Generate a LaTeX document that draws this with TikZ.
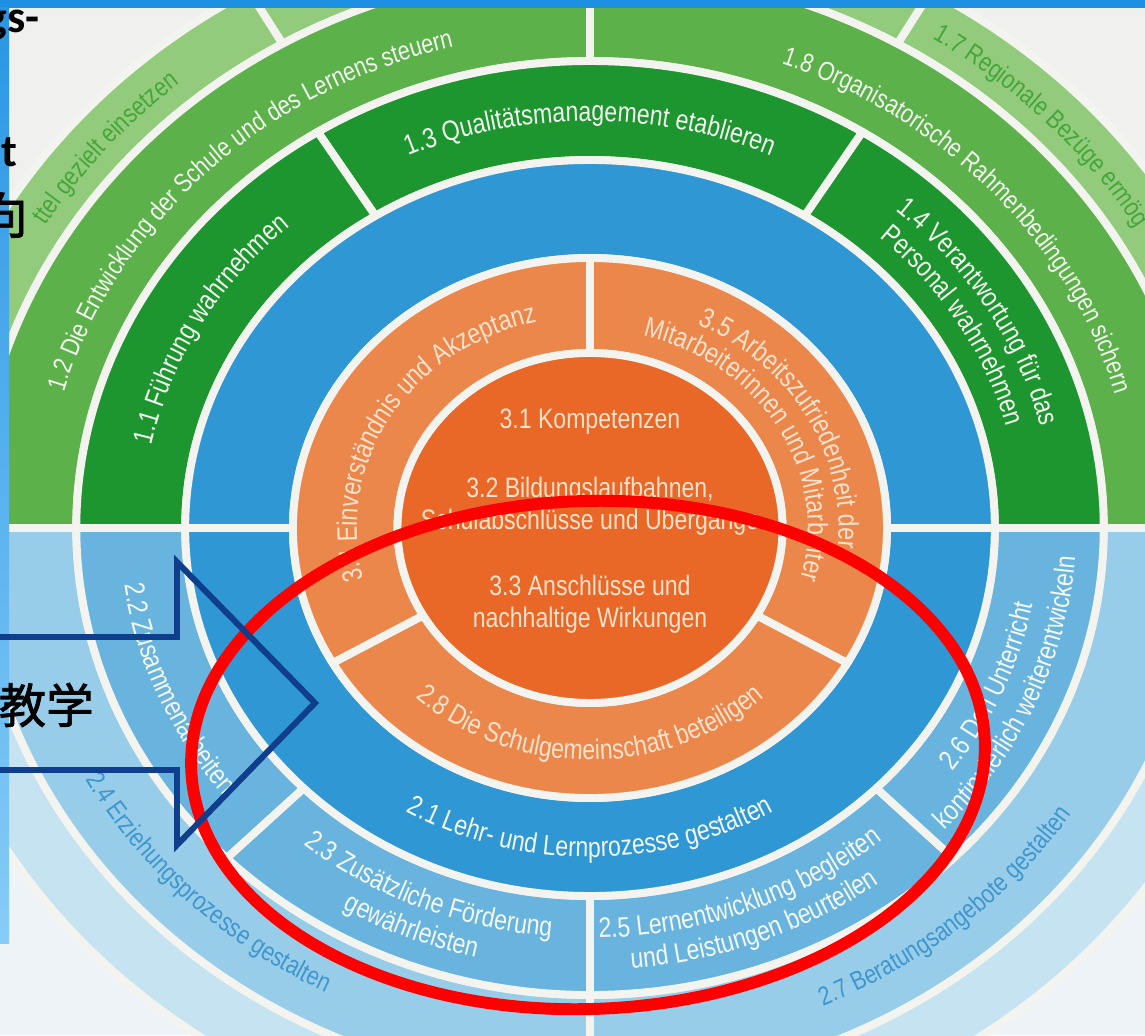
\documentclass[tikz,border=0pt]{standalone}
\usepackage{fontspec}
\setmainfont{Liberation Sans}[FakeStretch=0.82]
\newfontfamily\cjk{Noto Sans CJK SC}[FakeBold=1.5]
\newfontfamily\slidefont{Carlito}
\usetikzlibrary{decorations.text}

\definecolor{paper}{HTML}{F0F0EE}
\definecolor{paperblue}{HTML}{EDF3F6}
\definecolor{sepwhite}{HTML}{F3F4EF}
\definecolor{grnA}{HTML}{1D962F}
\definecolor{grnB}{HTML}{5DB14A}
\definecolor{grnC}{HTML}{93CB7C}
\definecolor{grnT}{HTML}{45A63A}
\definecolor{bluA}{HTML}{2F97D3}
\definecolor{bluB}{HTML}{69B4DF}
\definecolor{bluC}{HTML}{98CDE9}
\definecolor{bluD}{HTML}{C6E3F1}
\definecolor{bluT}{HTML}{3F96CF}
\definecolor{orgA}{HTML}{EC874B}
\definecolor{orgB}{HTML}{E96727}
\definecolor{orgT}{HTML}{FCE1CC}
\definecolor{txtW}{HTML}{F2F7F0}
\definecolor{barblue}{HTML}{1E90E2}
\definecolor{stripA}{HTML}{2A96E4}
\definecolor{stripB}{HTML}{86CCF7}
\definecolor{arrowblue}{HTML}{0E3E8C}

\newcommand{\lbl}{\fontsize{16}{18}\selectfont}
\newcommand{\lblout}{\fontsize{15}{17}\selectfont}
\newcommand{\ringpart}[5]{%
  \filldraw[sector,fill=#1] (#2:#4) arc[start angle=#2,end angle=#3,radius=#4]
    -- (#3:#5) arc[start angle=#3,end angle=#2,radius=#5] -- cycle;}
\newcommand{\cwlabel}[6][\lbl]{%
  \pgfmathsetmacro\tA{#3+#5}\pgfmathsetmacro\tB{#3-#5}%
  \path[decorate,decoration={text along path,text align=center,
    text={|#1\color{#2}|#6}}] (\tA:#4) arc[start angle=\tA,end angle=\tB,radius=#4];}
\newcommand{\ccwlabel}[6][\lbl]{%
  \pgfmathsetmacro\tA{#3-#5}\pgfmathsetmacro\tB{#3+#5}%
  \path[decorate,decoration={text along path,text align=center,
    text={|#1\color{#2}|#6}}] (\tA:#4) arc[start angle=\tA,end angle=\tB,radius=#4];}

\begin{document}
\begin{tikzpicture}[x=0.02cm,y=0.02cm,
    sector/.style={draw=sepwhite,line width=4.5pt,line join=miter},
    midtext/.style={text=orgT,font=\lbl,align=center,inner sep=0pt},
    slidetext/.style={inner sep=0pt,text=black}]
  \useasboundingbox (0,0) rectangle (1145,1035);
  \clip (0,0) rectangle (1145,1035);
  \fill[paper] (0,507) rectangle (1145,1035);
  \fill[paperblue] (0,0) rectangle (1145,507);

  \begin{scope}[shift={(590,507)},xscale=1.1]
    \ringpart{grnC}{0}{60}{559}{620}
    \ringpart{grnC}{60}{120}{559}{620}
    \ringpart{grnC}{120}{180}{559}{620}
    \ringpart{bluD}{180}{270}{559}{620}
    \ringpart{bluD}{270}{360}{559}{620}
    \ringpart{grnB}{0}{90}{467}{559}
    \ringpart{grnB}{90}{180}{467}{559}
    \ringpart{bluC}{180}{270}{467}{559}
    \ringpart{bluC}{270}{360}{467}{559}
    \ringpart{grnA}{0}{58}{368}{467}
    \ringpart{grnA}{58}{122}{368}{467}
    \ringpart{grnA}{122}{180}{368}{467}
    \ringpart{bluB}{180}{225}{368}{467}
    \ringpart{bluB}{225}{270}{368}{467}
    \ringpart{bluB}{270}{315}{368}{467}
    \ringpart{bluB}{315}{360}{368}{467}
    \ringpart{bluA}{0}{180}{270}{368}
    \ringpart{bluA}{180}{360}{270}{368}
    \ringpart{orgA}{90}{210}{175}{270}
    \ringpart{orgA}{-30}{90}{175}{270}
    \ringpart{orgA}{210}{330}{175}{270}
    \filldraw[sector,fill=orgB] (0,0) circle (175);

    \path[decorate,decoration={text along path,text align=left,
      text={|\lblout\color{grnT}|1.7 Regionale Bezüge ermög}}]
      (57.5:580) arc[start angle=57.5,end angle=0,radius=580];
    \path[decorate,decoration={text along path,text align=right,
      text={|\lblout\color{grnT}|ttel gezielt einsetzen}}]
      (179:580) arc[start angle=179,end angle=130,radius=580];
    \cwlabel[\lblout]{txtW}{135}{497}{45}{1.2 Die Entwicklung der Schule und des Lernens steuern}
    \cwlabel[\lblout]{txtW}{42}{496}{40}{1.8 Organisatorische Rahmenbedingungen sichern}
    \cwlabel{txtW}{150.5}{407}{28}{1.1 Führung wahrnehmen}
    \cwlabel{txtW}{90}{407}{30}{1.3 Qualitätsmanagement etablieren}
    \cwlabel{txtW}{31}{422}{30}{1.4 Verantwortung für das}
    \cwlabel{txtW}{31}{392}{30}{Personal wahrnehmen}
    \cwlabel{orgT}{149}{212}{55}{3.4 Einverständnis und Akzeptanz}
    \cwlabel{orgT}{29}{226}{50}{3.5 Arbeitszufriedenheit der}
    \cwlabel{orgT}{30}{198}{58}{Mitarbeiterinnen und Mitarbeiter}
    \ccwlabel{orgT}{270}{232}{55}{2.8 Die Schulgemeinschaft beteiligen}
    \ccwlabel{txtW}{270}{329}{45}{2.1 Lehr- und Lernprozesse gestalten}
    \ccwlabel{txtW}{203}{427}{25}{2.2 Zusammenarbeiten}
    \ccwlabel{txtW}{247.5}{410}{30}{2.3 Zusätzliche Förderung}
    \ccwlabel{txtW}{247.5}{442}{30}{gewährleisten}
    \ccwlabel{txtW}{291}{410}{30}{2.5 Lernentwicklung begleiten}
    \ccwlabel{txtW}{291}{442}{30}{und Leistungen beurteilen}
    \ccwlabel{txtW}{337}{410}{35}{2.6 Den Unterricht}
    \ccwlabel{txtW}{337}{442}{35}{kontinuierlich weiterentwickeln}
    \ccwlabel[\lblout]{bluT}{225}{523}{35}{2.4 Erziehungsprozesse gestalten}
    \ccwlabel[\lblout]{bluT}{311}{523}{35}{2.7 Beratungsangebote gestalten}
  \end{scope}

  \node[midtext] (komp) at (590,613) {3.1 Kompetenzen};
  \node[midtext] (bild) at (590,529) {3.2 Bildungslaufbahnen,\\Schulabschlüsse und Übergänge};
  \node[midtext] (ansch) at (590,431) {3.3 Anschlüsse und\\nachhaltige Wirkungen};

  \fill[barblue] (0,1027) rectangle (1145,1035);
  \shade[top color=stripA,bottom color=stripB] (0,92) rectangle (9,1027);

  \node[slidetext,anchor=base east,font=\slidefont\bfseries\fontsize{26}{28}\selectfont] (gs) at (40,1002) {gs-};
  \node[slidetext,anchor=base east,font=\slidefont\bfseries\fontsize{26}{28}\selectfont] (tt) at (18,868) {t};
  \node[slidetext,anchor=east,font=\cjk\fontsize{28}{30}\selectfont] (xiang) at (28,820) {向};
  \node[slidetext,anchor=east,font=\cjk\fontsize{27}{29}\selectfont] (jiaoxue) at (94,330) {教学};

  \draw[red,line width=6.8pt,rotate around={2:(588,280)}] (588,280) ellipse [x radius=397,y radius=254];
  \draw[arrowblue,line width=3.4pt,line join=miter]
    (-5,398) -- (177,398) -- (177,473) -- (315,332) -- (177,190) -- (177,265) -- (-5,265);
\end{tikzpicture}
\end{document}
